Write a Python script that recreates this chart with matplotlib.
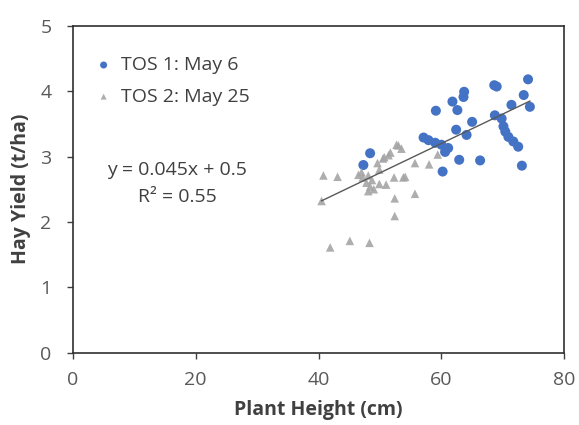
import matplotlib
matplotlib.use("Agg")
import matplotlib.pyplot as plt
import numpy as np

# TOS 1: May 6 (blue circles)
tos1_x = [74.1, 73.4, 74.4, 71.4, 69.0, 68.6, 73.1, 72.5, 71.7, 70.9, 70.4, 70.1,
          69.8, 68.7, 66.3, 62.9, 60.2, 65.0, 64.1, 63.7, 63.6, 61.8, 62.6, 59.1,
          62.4, 57.1, 57.9, 59.0, 60.0, 61.1, 60.6, 48.4, 47.3]
tos1_y = [4.18, 3.94, 3.76, 3.79, 4.07, 4.09, 2.86, 3.15, 3.23, 3.30, 3.38, 3.46,
          3.58, 3.63, 2.94, 2.95, 2.77, 3.53, 3.33, 3.99, 3.91, 3.84, 3.71, 3.70,
          3.41, 3.29, 3.25, 3.21, 3.18, 3.13, 3.07, 3.05, 2.87]

# TOS 2: May 25 (grey triangles)
tos2_x = [40.5, 40.8, 43.1, 41.9, 45.1, 48.3, 52.4, 52.4, 55.7, 53.8, 52.3, 51.0,
          55.7, 58.0, 59.4, 53.0, 53.5, 51.7, 50.7, 49.6, 49.9, 48.1, 48.7, 48.4,
          48.1, 46.5, 47.2, 49.0, 49.9, 47.8, 47.0, 52.7, 51.4, 54.1, 50.5]
tos2_y = [2.32, 2.71, 2.69, 1.61, 1.71, 1.68, 2.09, 2.36, 2.43, 2.68, 2.68, 2.57,
          2.90, 2.88, 3.03, 3.17, 3.12, 3.06, 2.99, 2.90, 2.80, 2.71, 2.64, 2.54,
          2.47, 2.72, 2.68, 2.50, 2.58, 2.60, 2.76, 3.18, 3.02, 2.69, 2.97]

# Linear trendline (combined data)
slope = 0.045
intercept = 0.5
eq_text = "y = 0.045x + 0.5"
r2_text = "R² = 0.55"

series_labels = ["TOS 1: May 6", "TOS 2: May 25"]
x_ticks = [0, 20, 40, 60, 80]
y_ticks = [0, 1, 2, 3, 4, 5]

plt.rcParams['font.family'] = ['Open Sans', 'DejaVu Sans']
FS = 14

fig = plt.figure(figsize=(5.79, 4.25), dpi=100)
ax = fig.add_axes([0.1256, 0.1701, 0.8490, 0.7694])

ax.scatter(tos1_x, tos1_y, s=52, marker='o', color='#4472C4', edgecolors='none',
           label=series_labels[0], zorder=3)
ax.scatter(tos2_x, tos2_y, s=38, marker='^', color='#A5A5A5', edgecolors='none',
           alpha=0.9, label=series_labels[1], zorder=4)

all_x = np.array(tos1_x + tos2_x)
xs = np.array([all_x.min(), all_x.max()])
ax.plot(xs, slope * xs + intercept, color='#595959', lw=1.0, zorder=5)

ax.text(16.9, 2.79, eq_text, ha='center', va='center', fontsize=FS, color='#404040')
ax.text(17.1, 2.38, r2_text, ha='center', va='center', fontsize=FS, color='#404040')

ax.set_xlim(0, 80)
ax.set_ylim(0, 5)
ax.set_xticks(x_ticks)
ax.set_yticks(y_ticks)
ax.tick_params(axis='both', direction='out', length=4.3, width=1, labelsize=FS,
               labelcolor='#595959', color='#404040')
ax.tick_params(axis='x', pad=9)
ax.tick_params(axis='y', pad=11)
for sp in ax.spines.values():
    sp.set_color('#303030')
    sp.set_linewidth(1.2)

ax.set_xlabel("Plant Height (cm)", fontsize=FS, fontweight='bold', color='#404040', labelpad=8)
ax.set_ylabel("Hay Yield (t/ha)", fontsize=FS, fontweight='bold', color='#404040', labelpad=7)

leg = ax.legend(loc='upper left', bbox_to_anchor=(0.051, 0.907), frameon=False,
                fontsize=FS, handletextpad=0.6, handlelength=0.6, labelspacing=0.7,
                borderaxespad=0.0, borderpad=0.0, markerscale=0.7)
for t in leg.get_texts():
    t.set_color('#404040')

fig.savefig("out.png", dpi=100)
